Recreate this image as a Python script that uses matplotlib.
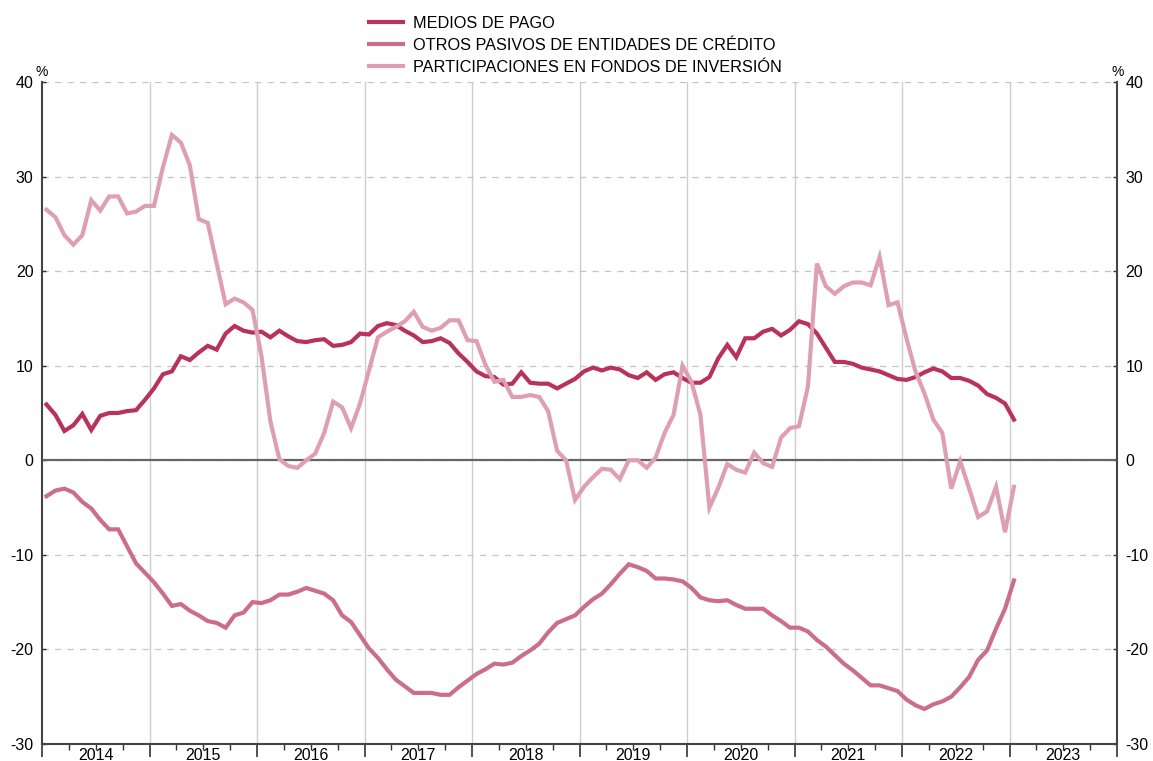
import numpy as np
import pandas as pd
import matplotlib
matplotlib.use("Agg")
import matplotlib.pyplot as plt

plt.rcParams['font.family'] = ['Liberation Sans', 'DejaVu Sans']
plt.rcParams['axes.unicode_minus'] = False

# monthly series, Jan 2014 - Jan 2023 (tasa interanual, %)
months = pd.date_range('2014-01-01', periods=109, freq='MS')

medios_de_pago = [
    5.9, 4.8, 3.1, 3.7, 4.9, 3.2, 4.7, 5.0, 5.0, 5.2, 5.3, 6.4,
    7.6, 9.1, 9.4, 11.0, 10.6, 11.4, 12.1, 11.7, 13.4, 14.2, 13.7, 13.5,
    13.6, 13.0, 13.7, 13.1, 12.6, 12.5, 12.7, 12.8, 12.1, 12.2, 12.5, 13.4,
    13.3, 14.2, 14.5, 14.3, 13.7, 13.2, 12.5, 12.6, 12.9, 12.4, 11.3, 10.4,
    9.4, 8.9, 8.8, 8.0, 8.1, 9.3, 8.2, 8.1, 8.1, 7.6, 8.1, 8.6,
    9.4, 9.8, 9.5, 9.8, 9.6, 9.0, 8.7, 9.3, 8.5, 9.1, 9.3, 8.7,
    8.2, 8.2, 8.8, 10.8, 12.2, 10.9, 12.9, 12.9, 13.6, 13.9, 13.2, 13.8,
    14.7, 14.4, 13.4, 11.9, 10.4, 10.4, 10.2, 9.8, 9.6, 9.4, 9.0, 8.6,
    8.5, 8.8, 9.3, 9.7, 9.4, 8.7, 8.7, 8.4, 7.9, 7.0, 6.6, 6.0,
    4.3,
]

otros_pasivos = [
    -3.8, -3.2, -3.0, -3.4, -4.4, -5.1, -6.3, -7.3, -7.3, -9.1, -10.9, -11.9,
    -12.9, -14.1, -15.4, -15.2, -15.9, -16.4, -17.0, -17.2, -17.7, -16.4, -16.1, -15.0,
    -15.1, -14.8, -14.2, -14.2, -13.9, -13.5, -13.8, -14.1, -14.8, -16.4, -17.1, -18.5,
    -19.9, -20.9, -22.1, -23.2, -23.9, -24.6, -24.6, -24.6, -24.8, -24.8, -24.0, -23.3,
    -22.6, -22.1, -21.5, -21.6, -21.4, -20.7, -20.1, -19.4, -18.2, -17.2, -16.8, -16.4,
    -15.5, -14.7, -14.1, -13.1, -12.0, -11.0, -11.3, -11.7, -12.5, -12.5, -12.6, -12.8,
    -13.5, -14.5, -14.8, -14.9, -14.8, -15.3, -15.7, -15.7, -15.7, -16.4, -17.0, -17.7,
    -17.7, -18.1, -19.0, -19.7, -20.6, -21.5, -22.2, -23.0, -23.8, -23.8, -24.1, -24.4,
    -25.3, -25.9, -26.3, -25.8, -25.5, -25.0, -24.0, -22.9, -21.1, -20.1, -17.8, -15.7,
    -12.7,
]

participaciones_fondos = [
    26.5, 25.7, 23.8, 22.8, 23.8, 27.5, 26.4, 27.9, 27.9, 26.1, 26.3, 26.9,
    26.9, 31.0, 34.4, 33.6, 31.2, 25.5, 25.1, 20.8, 16.5, 17.1, 16.7, 15.9,
    11.0, 4.1, 0.1, -0.6, -0.8, 0.0, 0.7, 2.9, 6.2, 5.6, 3.4, 6.0,
    9.5, 13.0, 13.6, 14.1, 14.7, 15.7, 14.1, 13.7, 14.0, 14.8, 14.8, 12.7,
    12.6, 10.1, 8.3, 8.5, 6.7, 6.7, 6.9, 6.7, 5.2, 1.0, 0.0, -4.2,
    -2.8, -1.8, -0.9, -1.0, -2.0, 0.0, 0.0, -0.8, 0.3, 2.9, 4.8, 10.0,
    8.3, 4.8, -5.0, -2.9, -0.4, -1.0, -1.3, 0.8, -0.3, -0.7, 2.4, 3.4,
    3.6, 7.8, 20.8, 18.4, 17.6, 18.4, 18.8, 18.8, 18.5, 21.5, 16.4, 16.7,
    12.9, 9.4, 7.1, 4.3, 2.9, -3.0, -0.1, -3.0, -6.0, -5.4, -2.8, -7.6,
    -2.8,
]

labels = ['MEDIOS DE PAGO',
          'OTROS PASIVOS DE ENTIDADES DE CRÉDITO',
          'PARTICIPACIONES EN FONDOS DE INVERSIÓN']
colors = ['#b8325a', '#cb6e8b', '#de9fb2']
years = list(range(2014, 2024))

# month centred position in decimal years
x = months.year + (months.month - 0.5) / 12

fig = plt.figure(figsize=(11.53, 7.61), dpi=100)
ax = fig.add_axes([42 / 1153, 1 - 744 / 761, 1075 / 1153, 662 / 761])

for y, lab, c in zip([medios_de_pago, otros_pasivos, participaciones_fondos], labels, colors):
    ax.plot(x, y, color=c, lw=3, label=lab, zorder=3, solid_joinstyle='miter')

ax.set_xlim(2014, 2024)
ax.set_ylim(-30, 40)

# grid: dashed horizontals, solid year separators, zero line
ax.set_yticks(range(-30, 41, 10))
ax.yaxis.grid(True, linestyle=(0, (5, 5)), color='#c4c4c4', lw=0.9, zorder=0)
for yr in years[1:]:
    ax.axvline(yr, color='#cdcdcd', lw=1, zorder=1)
ax.axhline(0, color='#666666', lw=1.6, zorder=2)

# x axis: long ticks at years, short ticks at quarters, labels centred in each year
ax.set_xticks(years + [2024], [''] * 11)
quarters = [yr + q / 4 for yr in years for q in (1, 2, 3)]
qlabels = [str(yr) if q == 2 else '' for yr in years for q in (1, 2, 3)]
ax.set_xticks(quarters, qlabels, minor=True)
ax.tick_params(axis='x', which='major', direction='out', length=9, width=1.2, color='#333333')
ax.tick_params(axis='x', which='minor', direction='out', length=4, width=1, color='#333333',
               pad=-1, labelsize=11.5)

ax.tick_params(axis='y', which='both', left=True, right=True, labelleft=True, labelright=True,
               direction='in', length=3, width=1, color='#333333', pad=6, labelsize=11.5)

for side in ['left', 'right', 'bottom']:
    ax.spines[side].set_color('#444444')
    ax.spines[side].set_linewidth(1.5)
ax.spines['top'].set_visible(False)

fig.text(42 / 1153, 1 - 72 / 761, '%', ha='center', va='center', fontsize=10)
fig.text(1118 / 1153, 1 - 72 / 761, '%', ha='center', va='center', fontsize=10)

ax.legend(loc='upper left', bbox_to_anchor=(361 / 1153, 1 - 8 / 761),
          bbox_transform=fig.transFigure, frameon=False, fontsize=11.7,
          handlelength=2.1, handletextpad=0.6, labelspacing=0.42, borderpad=0)

fig.savefig('out.png', dpi=100)
